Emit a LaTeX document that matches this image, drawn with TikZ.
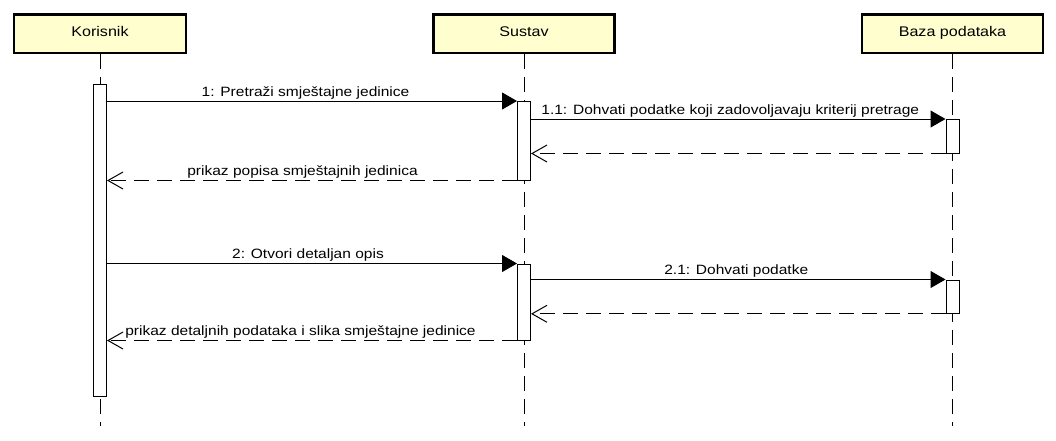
\documentclass[tikz,border=0pt]{standalone}
\usepackage{fontspec}
\setmainfont{Liberation Sans}[FakeStretch=1.15]
\usetikzlibrary{arrows.meta}
\definecolor{partfill}{HTML}{FEFECE}
\tikzset{
  participant/.style={draw=black, line width=2.5pt, fill=partfill, minimum height=38.5pt,
    inner sep=0pt, text height=10pt, text depth=5pt, font=\fontsize{14}{16}\selectfont},
  activation/.style={draw=black, line width=1pt, fill=white, minimum width=13pt, inner sep=0pt},
  lifeline/.style={draw=black, line width=1pt, dash pattern=on 15pt off 8pt},
  callmsg/.style={draw=black, line width=1pt, -{Triangle[length=15pt,width=17pt]}},
  retmsg/.style={draw=black, line width=1pt, dash pattern=on 15pt off 8pt,
    -{Straight Barb[length=15pt,width=17pt,line width=1pt]}},
  msglabel/.style={font=\fontsize{13.5}{15}\selectfont, inner sep=0pt, anchor=base, midway, yshift=5pt}
}
\begin{document}
\begin{tikzpicture}[x=1pt,y=-1pt]
\useasboundingbox (0,0) rectangle (1056,440);
\fill[white] (0,0) rectangle (1056,440);
% participants
\node[participant, minimum width=172pt] (k) at (100,33.5) {Korisnik};
\node[participant, minimum width=181pt] (s) at (524,33.5) {Sustav};
\node[participant, minimum width=181pt] (b) at (952.5,33.5) {Baza podataka};
\coordinate (kend) at (100,426);
\coordinate (send) at (524,426);
\coordinate (bend) at (952.5,426);
% lifelines
\draw[lifeline] (k.south) -- (kend);
\draw[lifeline] (s.south) -- (send);
\draw[lifeline] (b.south) -- (bend);
% activations
\node[activation, minimum height=311.5pt] (ka) at (100,240.25) {};
\node[activation, minimum height=78.5pt] (sa1) at (524,140.75) {};
\node[activation, minimum height=76pt] (sa2) at (524,302) {};
\node[activation, minimum height=33.5pt] (ba1) at (952.5,136.25) {};
\node[activation, minimum height=33.3pt] (ba2) at (952.5,296.65) {};
% messages
\draw[callmsg] (ka.east |- sa1.north west) -- node[msglabel, xshift=-6.5pt] {1: Pretraži smještajne jedinice} (sa1.north west);
\draw[callmsg] (sa1.east |- ba1.north west) -- node[msglabel, xshift=-8pt] {1.1: Dohvati podatke koji zadovoljavaju kriterij pretrage} (ba1.north west);
\draw[retmsg] (ba1.south west) -- (sa1.east |- ba1.south west);
\draw[retmsg] (sa1.south west) -- node[msglabel, xshift=-9.5pt] {prikaz popisa smještajnih jedinica} (ka.east |- sa1.south west);
\draw[callmsg] (ka.east |- sa2.north west) -- node[msglabel, xshift=-4pt] {2: Otvori detaljan opis} (sa2.north west);
\draw[callmsg] (sa2.east |- ba2.north west) -- node[msglabel, xshift=-2pt] {2.1: Dohvati podatke} (ba2.north west);
\draw[retmsg] (ba2.south west) -- (sa2.east |- ba2.south west);
\draw[retmsg] (sa2.south west) -- node[msglabel, xshift=-11.5pt] {prikaz detaljnih podataka i slika smještajne jedinice} (ka.east |- sa2.south west);
\end{tikzpicture}
\end{document}
